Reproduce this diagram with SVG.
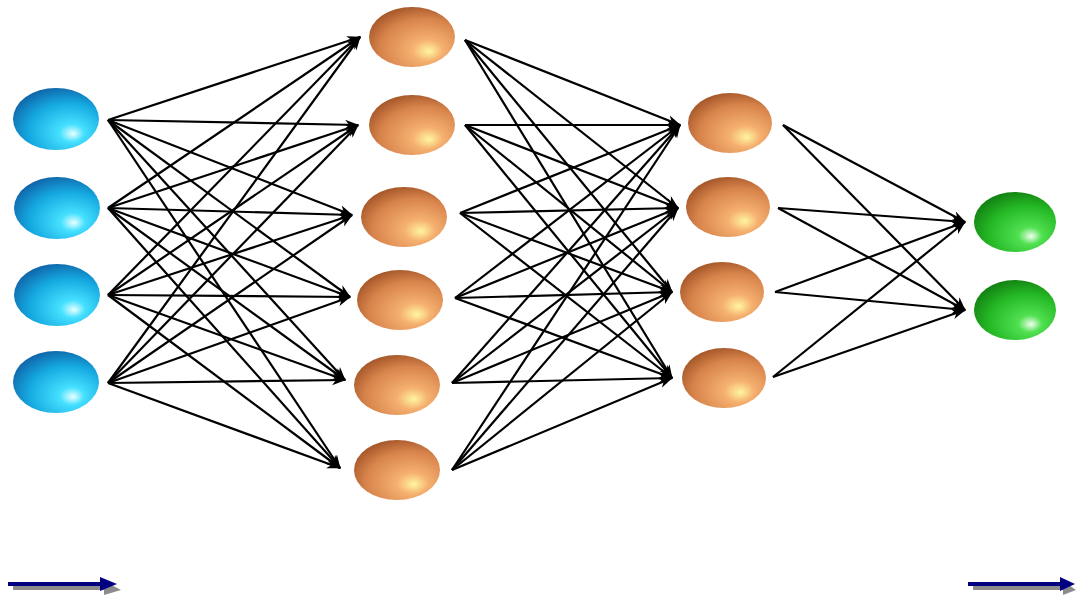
<svg xmlns="http://www.w3.org/2000/svg" width="1076" height="598" viewBox="0 0 1076 598">
<defs>
<radialGradient id="gBlue" cx="0.62" cy="0.68" r="0.72" fx="0.7" fy="0.74">
<stop offset="0" stop-color="#e8ffff"/><stop offset="0.2" stop-color="#45e0ff"/><stop offset="0.65" stop-color="#15a8e0"/><stop offset="1" stop-color="#1064a8"/>
</radialGradient>
<radialGradient id="gOrange" cx="0.62" cy="0.68" r="0.72" fx="0.7" fy="0.74">
<stop offset="0" stop-color="#fff5a0"/><stop offset="0.25" stop-color="#f5b070"/><stop offset="0.7" stop-color="#d8844c"/><stop offset="1" stop-color="#a45628"/>
</radialGradient>
<radialGradient id="gGreen" cx="0.62" cy="0.68" r="0.72" fx="0.7" fy="0.74">
<stop offset="0" stop-color="#f0fff0"/><stop offset="0.2" stop-color="#50e050"/><stop offset="0.65" stop-color="#25b825"/><stop offset="1" stop-color="#127f12"/>
</radialGradient>
<marker id="ah" viewBox="0 0 14 10" refX="13" refY="5" markerWidth="14" markerHeight="11" markerUnits="userSpaceOnUse" orient="auto">
<path d="M0,0 L14,5 L0,10 L4,5 Z" fill="#000"/>
</marker>
</defs>
<style>
.c line{stroke:#000;stroke-width:2.2;marker-end:url(#ah)}
.in{fill:url(#gBlue)}
.hid{fill:url(#gOrange)}
.out{fill:url(#gGreen)}
</style>
<rect width="1076" height="598" fill="#fff"/>
<g id="connectors" class="c">
<line x1="108" y1="120" x2="360" y2="37"/><line x1="108" y1="120" x2="358" y2="125"/><line x1="108" y1="120" x2="352" y2="215"/><line x1="108" y1="120" x2="350" y2="297"/><line x1="108" y1="120" x2="345" y2="380"/><line x1="108" y1="120" x2="340" y2="468"/>
<line x1="108" y1="208" x2="360" y2="37"/><line x1="108" y1="208" x2="358" y2="125"/><line x1="108" y1="208" x2="352" y2="215"/><line x1="108" y1="208" x2="350" y2="297"/><line x1="108" y1="208" x2="345" y2="380"/><line x1="108" y1="208" x2="340" y2="468"/>
<line x1="108" y1="295" x2="360" y2="37"/><line x1="108" y1="295" x2="358" y2="125"/><line x1="108" y1="295" x2="352" y2="215"/><line x1="108" y1="295" x2="350" y2="297"/><line x1="108" y1="295" x2="345" y2="380"/><line x1="108" y1="295" x2="340" y2="468"/>
<line x1="108" y1="383" x2="360" y2="37"/><line x1="108" y1="383" x2="358" y2="125"/><line x1="108" y1="383" x2="352" y2="215"/><line x1="108" y1="383" x2="350" y2="297"/><line x1="108" y1="383" x2="345" y2="380"/><line x1="108" y1="383" x2="340" y2="468"/>
<line x1="465" y1="40" x2="680" y2="125"/><line x1="465" y1="40" x2="678" y2="208"/><line x1="465" y1="40" x2="672" y2="292"/><line x1="465" y1="40" x2="672" y2="378"/>
<line x1="465" y1="125" x2="680" y2="125"/><line x1="465" y1="125" x2="678" y2="208"/><line x1="465" y1="125" x2="672" y2="292"/><line x1="465" y1="125" x2="672" y2="378"/>
<line x1="460" y1="213" x2="680" y2="125"/><line x1="460" y1="213" x2="678" y2="208"/><line x1="460" y1="213" x2="672" y2="292"/><line x1="460" y1="213" x2="672" y2="378"/>
<line x1="455" y1="298" x2="680" y2="125"/><line x1="455" y1="298" x2="678" y2="208"/><line x1="455" y1="298" x2="672" y2="292"/><line x1="455" y1="298" x2="672" y2="378"/>
<line x1="452" y1="383" x2="680" y2="125"/><line x1="452" y1="383" x2="678" y2="208"/><line x1="452" y1="383" x2="672" y2="292"/><line x1="452" y1="383" x2="672" y2="378"/>
<line x1="452" y1="470" x2="680" y2="125"/><line x1="452" y1="470" x2="678" y2="208"/><line x1="452" y1="470" x2="672" y2="292"/><line x1="452" y1="470" x2="672" y2="378"/>
<line x1="783" y1="125" x2="965" y2="222"/><line x1="783" y1="125" x2="965" y2="310"/>
<line x1="778" y1="208" x2="965" y2="222"/><line x1="778" y1="208" x2="965" y2="310"/>
<line x1="775" y1="292" x2="965" y2="222"/><line x1="775" y1="292" x2="965" y2="310"/>
<line x1="773" y1="377" x2="965" y2="222"/><line x1="773" y1="377" x2="965" y2="310"/>
</g>
<g id="in1"><ellipse class="in" cx="56" cy="119" rx="43" ry="31"/></g>
<g id="in2"><ellipse class="in" cx="57" cy="208" rx="43" ry="31"/></g>
<g id="in3"><ellipse class="in" cx="57" cy="295" rx="43" ry="31"/></g>
<g id="in4"><ellipse class="in" cx="56" cy="382" rx="43" ry="31"/></g>
<g id="h1a"><ellipse class="hid" cx="412" cy="37" rx="43" ry="30"/></g>
<g id="h1b"><ellipse class="hid" cx="412" cy="125" rx="43" ry="30"/></g>
<g id="h1c"><ellipse class="hid" cx="404" cy="217" rx="43" ry="30"/></g>
<g id="h1d"><ellipse class="hid" cx="400" cy="300" rx="43" ry="30"/></g>
<g id="h1e"><ellipse class="hid" cx="397" cy="385" rx="43" ry="30"/></g>
<g id="h1f"><ellipse class="hid" cx="397" cy="470" rx="43" ry="30"/></g>
<g id="h2a"><ellipse class="hid" cx="730" cy="123" rx="42" ry="30"/></g>
<g id="h2b"><ellipse class="hid" cx="728" cy="207" rx="42" ry="30"/></g>
<g id="h2c"><ellipse class="hid" cx="722" cy="292" rx="42" ry="30"/></g>
<g id="h2d"><ellipse class="hid" cx="724" cy="378" rx="42" ry="30"/></g>
<g id="out1"><ellipse class="out" cx="1015" cy="222" rx="41" ry="30"/></g>
<g id="out2"><ellipse class="out" cx="1015" cy="310" rx="41" ry="30"/></g>
<g id="arrowLeft">
<rect x="13" y="586" width="93" height="4" fill="#8c8c8c"/><path d="M104,581 L121,590 L104,595 Z" fill="#8c8c8c"/>
<rect x="8" y="582" width="94" height="4" fill="#000080"/><path d="M100,577 L117,584 L100,591 Z" fill="#000080"/>
</g>
<g id="arrowRight">
<rect x="973" y="586" width="93" height="4" fill="#8c8c8c"/><path d="M1063,581 L1076,590 L1063,595 Z" fill="#8c8c8c"/>
<rect x="968" y="582" width="93" height="4" fill="#000080"/><path d="M1060,577 L1075,584 L1060,591 Z" fill="#000080"/>
</g>
</svg>
